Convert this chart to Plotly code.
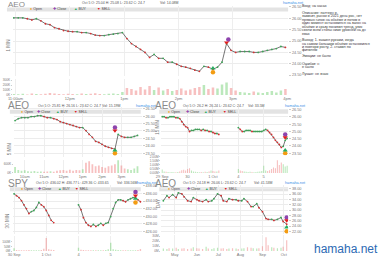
import plotly.graph_objects as go
import pandas as pd

W, H = 380, 261
def fx(x): return x / W
def fy(y): return 1 - y / H
def dom_x(a, b): return [fx(a), fx(b)]
def dom_y(top, bot): return [fy(bot), fy(top)]

FONT = "Liberation Sans, Arial, sans-serif"
GREEN = "#3aa655"; RED = "#d63031"
VGREEN = "rgba(120,210,120,0.5)"; VRED = "rgba(240,130,130,0.5)"
LINE = "#3a3a3a"

# ===== Panel 1: AEO 1 MIN =====
p1_time = list(range(658, 959, 5))
p1_close = [26.02, 26.02, 26.02, 25.98, 25.93, 25.98, 25.89, 25.76, 25.72, 25.59,
            25.54, 25.46, 25.43, 25.41, 25.41, 25.37, 25.37, 25.33, 25.26, 25.24,
            25.24, 25.28, 25.30, 25.33, 25.37, 25.11, 24.89, 24.76, 24.63, 24.50,
            24.28, 24.41, 24.24, 24.24, 24.07, 24.07, 23.98, 23.89, 23.85, 23.80,
            23.72, 23.67, 23.89, 23.85, 23.76, 23.85, 24.07, 24.89, 24.59, 24.50,
            24.54, 24.54, 24.54, 24.50, 24.50, 24.54, 24.59, 24.63, 24.67, 24.76, 24.72]
p1_vol = [20, 15, 25, 10, 30, 20, 15, 25, 40, 30,
          20, 15, 25, 20, 15, 30, 20, 25, 35, 20,
          15, 25, 30, 20, 60, 140, 120, 90, 160, 110,
          180, 100, 150, 90, 120, 80, 100, 130, 90, 110,
          140, 160, 200, 120, 150, 130, 210, 250, 140, 90,
          60, 50, 40, 70, 50, 40, 60, 80, 50, 90, 120]
p1_tickvals = [660, 720, 780, 840, 900, 960]
p1_ticktext = ["11:00am", "12pm", "1pm", "2pm", "3pm", "4pm"]
p1_mark_x = [878, 895, 878, 893]          # Open, Close, BUY, SELL
p1_mark_y = [23.63, 25.07, 23.80, 24.93]

# ===== Panel 2: AEO 5 MIN =====
p2_time = list(range(570, 951, 10))
p2_close = [25.70, 25.83, 25.90, 25.90, 25.90, 25.97, 25.97, 26.03, 26.03, 25.97,
            25.90, 25.90, 25.83, 25.77, 25.63, 25.57, 25.50, 25.43, 25.37, 25.30,
            25.23, 25.23, 25.03, 24.77, 24.57, 24.30, 24.23, 24.10, 23.97, 23.90,
            23.83, 23.77, 24.77, 24.63, 24.57, 24.57, 24.57, 24.63, 24.70]
p2_vol = [400, 200, 150, 180, 120, 100, 130, 90, 110, 80,
          100, 120, 90, 150, 180, 200, 160, 220, 150, 200,
          180, 250, 700, 800, 600, 450, 500, 400, 350, 450,
          500, 600, 900, 500, 300, 250, 200, 300, 450]
p2_tickvals = [600, 660, 720, 780, 840, 900]
p2_ticktext = ["10am", "11am", "12pm", "1pm", "2pm", "3pm"]
p2_mark_x = [880, 880, 880, 880]
p2_mark_y = [23.50, 25.23, 23.70, 25.03]

# ===== Panel 3: AEO 15 MIN =====
p3_idx = list(range(65))
p3_close = ([26.02, 26.02, 25.95, 25.95, 26.02, 26.02, 26.02, 25.95, 25.95, 25.89,
             25.68, 25.48, 25.34, 25.27, 25.00, 25.07, 25.07, 25.14, 25.14, 25.14,
             25.07, 25.14, 25.07, 25.07, 25.00, 25.00, 24.93, 24.86, 24.86, 24.80]
            + [None] * 9 +
            [25.27, 25.14, 25.00, 25.00, 25.07, 25.07, 25.07, 25.00, 25.00, 25.00,
             25.00, 25.00, 25.00, 25.07, 25.14, 25.07, 24.93, 24.80, 24.59, 24.39,
             24.25, 24.11, 23.90, 23.98, 24.39, 24.52])
p3_vol = ([0.45, 0.20, 0.15, 0.12, 0.10, 0.12, 0.10, 0.08, 0.12, 0.20,
           0.35, 0.40, 0.30, 0.50, 0.60, 0.30, 0.20, 0.15, 0.12, 0.10,
           0.12, 0.10, 0.15, 0.12, 0.20, 0.30, 0.25, 0.20, 0.18, 0.30]
          + [None] * 9 +
          [0.50, 0.30, 0.25, 0.20, 0.15, 0.12, 0.15, 0.12, 0.10, 0.12,
           0.15, 0.20, 0.25, 0.90, 0.30, 0.25, 0.35, 0.50, 0.70, 0.60,
           1.60, 1.00, 1.30, 1.10, 0.80, 0.90])
p3_tickvals = [0, 13, 26, 39, 52]
p3_ticktext = ["29 Sep", "30", "1 Oct", "4", "5"]
p3_mark_x = [63, 63, 63, 63]
p3_mark_y = [23.50, 24.80, 23.70, 24.59]

# ===== Panel 4: SPY 30 MIN =====
p4_idx = list(range(52))
p4_close = ([435.9, 435.4, 434.9, 434.1, 433.0, 432.0, 430.7, 431.2, 431.5, 432.3, 433.6, 433.0, 432.5,
             431.5, 430.2, 428.9, 428.3]
            + [None] * 9 +
            [433.0, 431.7, 429.6, 428.3, 427.6, 427.3, 427.8, 427.3, 427.6, 428.1, 427.6, 428.1, 428.3,
             429.9, 432.0, 433.6, 434.3, 434.3, 434.1, 433.8, 434.3, 434.6, 434.9, 434.9, 434.3, 433.8])
p4_vol = ([30, 12, 10, 9, 10, 8, 12, 9, 8, 10, 9, 12, 25,
           140, 20, 15, 12]
          + [None] * 9 +
          [35, 15, 12, 10, 9, 8, 10, 9, 8, 9, 10, 12, 20,
           90, 20, 14, 12, 10, 9, 8, 9, 10, 9, 10, 12, 22])
p4_tickvals = [0, 13, 26, 39]
p4_ticktext = ["30 Sep", "1 Oct", "4", "5"]
p4_mark_x = [49, 49, 49, 49]
p4_mark_y = [433.6, 436.4, 434.6, 435.4]

# ===== Panel 5: AEO DAY =====
p5_close = [33.5, 35.4, 34.7, 35.8, 34.7, 36.5, 36.1, 35.0, 33.5, 33.2,
            34.7, 33.9, 33.5, 33.2, 33.9, 33.2, 33.5, 34.3, 36.1, 35.4,
            33.5, 33.2, 34.3, 33.9, 33.9, 33.5, 33.5, 34.3, 33.2, 31.3,
            31.3, 32.4, 30.9, 29.4, 26.8, 26.5, 26.5, 26.1, 26.5, 27.2,
            25.7, 24.7]
p5_vol = [5, 4, 6, 5, 7, 4, 5, 6, 4, 5,
          8, 6, 5, 4, 9, 5, 4, 6, 7, 5,
          6, 4, 5, 6, 5, 4, 5, 6, 8, 7,
          6, 5, 6, 10, 28, 12, 8, 7, 6, 7,
          9, 22]
p5_dates = [d.strftime("%Y-%m-%d") for d in
            pd.bdate_range(end="2021-10-05", periods=len(p5_close), freq="3B")]
p5_mark_x = ["2021-10-05"] * 4
p5_mark_y = [22.0, 27.2, 23.5, 26.1]

MARK_STYLE = [("circle", "#f39c12"), ("circle", "#8e44ad"),
              ("triangle-up", "#27ae60"), ("triangle-down", "#e02020")]

fig = go.Figure()

def add_panel(k, xs, closes, vols, mx, my):
    xa = 'x' if k == 1 else f'x{k}'
    yp = 'y' if k == 1 else f'y{2*k-1}'
    yv = f'y{2*k}'
    vcol, pcol = [], []
    prev = None
    for c in closes:
        if c is None:
            vcol.append(VGREEN); pcol.append(GREEN)
            continue
        o = prev if prev is not None else c
        up = c >= o
        vcol.append(VGREEN if up else VRED)
        pcol.append(GREEN if up else RED)
        prev = c
    fig.add_trace(go.Bar(x=xs, y=vols, marker=dict(color=vcol, line=dict(width=0)),
                         xaxis=xa, yaxis=yv, hoverinfo='skip'))
    fig.add_trace(go.Scatter(x=xs, y=closes, mode='lines+markers',
                             line=dict(color=LINE, width=0.7),
                             marker=dict(size=1.8, color=pcol, line=dict(width=0)),
                             xaxis=xa, yaxis=yp, hoverinfo='skip', connectgaps=False))
    for (sym, col), x, y in zip(MARK_STYLE, mx, my):
        fig.add_trace(go.Scatter(x=[x], y=[y], mode='markers', xaxis=xa, yaxis=yp,
                                 marker=dict(symbol=sym, size=4.5, color=col, line=dict(width=0)),
                                 hoverinfo='skip'))

add_panel(1, p1_time, p1_close, p1_vol, p1_mark_x, p1_mark_y)
add_panel(2, p2_time, p2_close, p2_vol, p2_mark_x, p2_mark_y)
add_panel(3, p3_idx, p3_close, p3_vol, p3_mark_x, p3_mark_y)
add_panel(4, p4_idx, p4_close, p4_vol, p4_mark_x, p4_mark_y)
add_panel(5, p5_dates, p5_close, p5_vol, p5_mark_x, p5_mark_y)

xcommon = dict(showgrid=True, gridcolor='#eeeeee', gridwidth=0.5, zeroline=False, showline=False,
               ticks='', tickfont=dict(size=4, color='#777', family=FONT), fixedrange=True)
pcommon = dict(showgrid=True, gridcolor='#ececec', gridwidth=0.5, zeroline=False, showline=False,
               ticks='outside', ticklen=2, tickcolor='#cccccc', tickformat='.2f',
               tickfont=dict(size=3.8, color='#777', family=FONT), side='right', fixedrange=True)
vcommon = dict(showgrid=False, zeroline=False, showline=False, ticks='outside', ticklen=1,
               tickcolor='#cccccc', tickfont=dict(size=3.2, color='#777', family=FONT),
               side='left', fixedrange=True)

fig.update_layout(
    width=W, height=H, margin=dict(l=0, r=0, t=0, b=0),
    paper_bgcolor='white', plot_bgcolor='white', showlegend=False, bargap=0.45,
    font=dict(family=FONT),
    xaxis=dict(domain=dom_x(8, 290), range=[657, 961], anchor='y2',
               tickvals=p1_tickvals, ticktext=p1_ticktext, **xcommon),
    yaxis=dict(domain=dom_y(5, 76), range=[23.457, 26.543], anchor='x',
               tickvals=[23.5, 24, 24.5, 25, 25.5, 26, 26.5], **pcommon),
    yaxis2=dict(domain=dom_y(79, 95), range=[0, 320], anchor='x',
                tickvals=[0, 100, 200, 300], ticktext=["0K", "100K", "200K", "300K"], **vcommon),
    xaxis2=dict(domain=dom_x(9, 140), range=[566, 963], anchor='y4',
                tickvals=p2_tickvals, ticktext=p2_ticktext, **xcommon),
    yaxis3=dict(domain=dom_y(107, 158), range=[23.233, 26.633], anchor='x2',
                tickvals=[23.5, 24, 24.5, 25, 25.5, 26, 26.5], **pcommon),
    yaxis4=dict(domain=dom_y(161, 174), range=[0, 870], anchor='x2',
                tickvals=[0, 600], ticktext=["0K", "600K"], **vcommon),
    xaxis3=dict(domain=dom_x(160, 290), range=[-0.5, 64.5], anchor='y6',
                tickvals=p3_tickvals, ticktext=p3_ticktext, **xcommon),
    yaxis5=dict(domain=dom_y(107, 156), range=[23.364, 26.705], anchor='x3',
                tickvals=[23.5, 24, 24.5, 25, 25.5, 26, 26.5], **pcommon),
    yaxis6=dict(domain=dom_y(157, 174), range=[0, 2.1], anchor='x3',
                tickvals=[0, 0.5, 1, 1.5, 2], ticktext=["0.00M", "0.50M", "1.00M", "1.50M", "2.00M"],
                **vcommon),
    xaxis4=dict(domain=dom_x(8, 140), range=[-0.5, 51.5], anchor='y8',
                tickvals=p4_tickvals, ticktext=p4_ticktext, **xcommon),
    yaxis7=dict(domain=dom_y(186, 236), range=[425.22, 438.26], anchor='x4',
                tickvals=[426, 428, 430, 432, 434, 436, 438], **pcommon),
    yaxis8=dict(domain=dom_y(238, 253), range=[0, 160], anchor='x4',
                tickvals=[0, 50, 100], ticktext=["0M", "50M", "100M"], **vcommon),
    xaxis5=dict(domain=dom_x(160, 290), range=["2021-04-12", "2021-10-07"], anchor='y10',
                type='date', dtick="M1", tick0="2021-05-01", tickformat="%b", **xcommon),
    yaxis9=dict(domain=dom_y(186, 236), range=[20.88, 39.49], anchor='x5',
                tickvals=[22, 24, 26, 28, 30, 32, 34, 36, 38], **pcommon),
    yaxis10=dict(domain=dom_y(237, 253), range=[0, 32], anchor='x5',
                 tickvals=[0, 10, 20, 30], ticktext=["0M", "10M", "20M", "30M"], **vcommon),
)

shapes = []
ann = []

def text(x, y, s, size=4, color='#555', anchor='left', angle=0):
    ann.append(dict(x=fx(x), y=fy(y), xref='paper', yref='paper', text=s, showarrow=False,
                    xanchor=anchor, yanchor='middle', textangle=angle,
                    font=dict(size=size, color=color, family=FONT)))

LEG = [("#f39c12", "●", "Open"), ("#8e44ad", "✚", "Close"), ("#27ae60", "▲", "BUY"), ("#e02020", "▼", "SELL")]
panels_meta = [
    ("AEO", 1, 3.8, 8, 77, 2.5, "Oct 5 O: 25.04 H: 25.08 L: 23.62 C: 24.7", 157, "Vol: 14.08M",
     2, 290, 6.5, 10.5, [24, 47, 69, 92], 283, 2.5, "1 MIN", 4, 45),
    ("AEO", 1, 105.5, 10, 32, 106, "Oct 5 O: 25.81 H: 26.16 L: 23.62 C: 24.7", 97, "Vol: 15.19M",
     5, 139, 110, 114, [14, 31, 50, 69], 132, 106, "5 MIN", 4, 150),
    ("AEO", 152, 105.5, 10, 180, 106, "Oct 5 O: 26.2 H: 26.24 L: 23.62 C: 24.7", 247, "Vol: 33.5M",
     158, 290, 110, 114, [165, 183, 202, 221], 285, 106, "15 MIN", 156, 128),
    ("SPY", 1, 184.2, 10, 30, 184, "Oct 5 O: 436.02 H: 436.77 L: 429.36 C: 433.65", 113, "Vol: 336.56M",
     5, 139, 188.5, 192.5, [14, 32, 52, 70], 133, 184, "30 MIN", 3, 222),
    ("AEO", 152, 184.2, 10, 180, 184, "Oct 5 O: 24.18 H: 26.06 L: 23.62 C: 24.7", 253, "Vol: 41.53M",
     158, 290, 188.5, 192.5, [165, 184, 203, 222], 285, 184, "DAY", 157, 205),
]
for (ttl, tx, ty, tsz, ix, iy, info, vx, vtxt, bx0, bx1, by0, by1, lxs, lkx, lky, yt, ytx, yty) in panels_meta:
    shapes.append(dict(type='rect', xref='paper', yref='paper', x0=fx(bx0), x1=fx(bx1),
                       y0=fy(by1), y1=fy(by0), fillcolor='#e3e3e3', line=dict(width=0), layer='below'))
    text(tx, ty, ttl, size=tsz, color='#8a8a8a')
    text(ix, iy, info, size=3.5, color='#555')
    text(vx, iy, vtxt, size=3.5, color='#555')
    text(lkx, lky, "hamaha.net", size=3.8, color='#3a8ee6')
    ly = (by0 + by1) / 2
    for (col, sym, lab), lx in zip(LEG, lxs):
        text(lx, ly, f"<span style='color:{col}'>{sym}</span> {lab}", size=3.6, color='#444')
    text(ytx, yty, yt, size=4.5, color='#777', anchor='center', angle=-90)

notes = [
    (5, "Вход: на часах"),
    (12, "Описание: паттерн р."),
    (15.5, "зависит, рынок в 2021 день рос, нет"),
    (19, "прямых гэпов на объёме и потом в"),
    (22.5, "один момент остановился на закон на"),
    (26, "объёме и сразу понизил тренд, узко"),
    (29.5, "свели всем стопы ниже уровней на дн"),
    (33, "евах"),
    (39.5, "Выход: 1. вышел руками, когда"),
    (43, "на самом большом объёме остановился"),
    (46.5, "и повтори росту, 2. ставил по"),
    (50, "фитилям"),
    (56, "Эмоции: не было"),
    (63.5, "Ошибки: н"),
    (67, "е было"),
    (74, "Лучше: не знаю"),
]
for y, s in notes:
    text(302, y, s, size=3.6, color='#333')

text(349, 251, "hamaha.net", size=12, color='#2d6ab4', anchor='center')

fig.update_layout(shapes=shapes, annotations=ann)
fig.write_html("out.html")
